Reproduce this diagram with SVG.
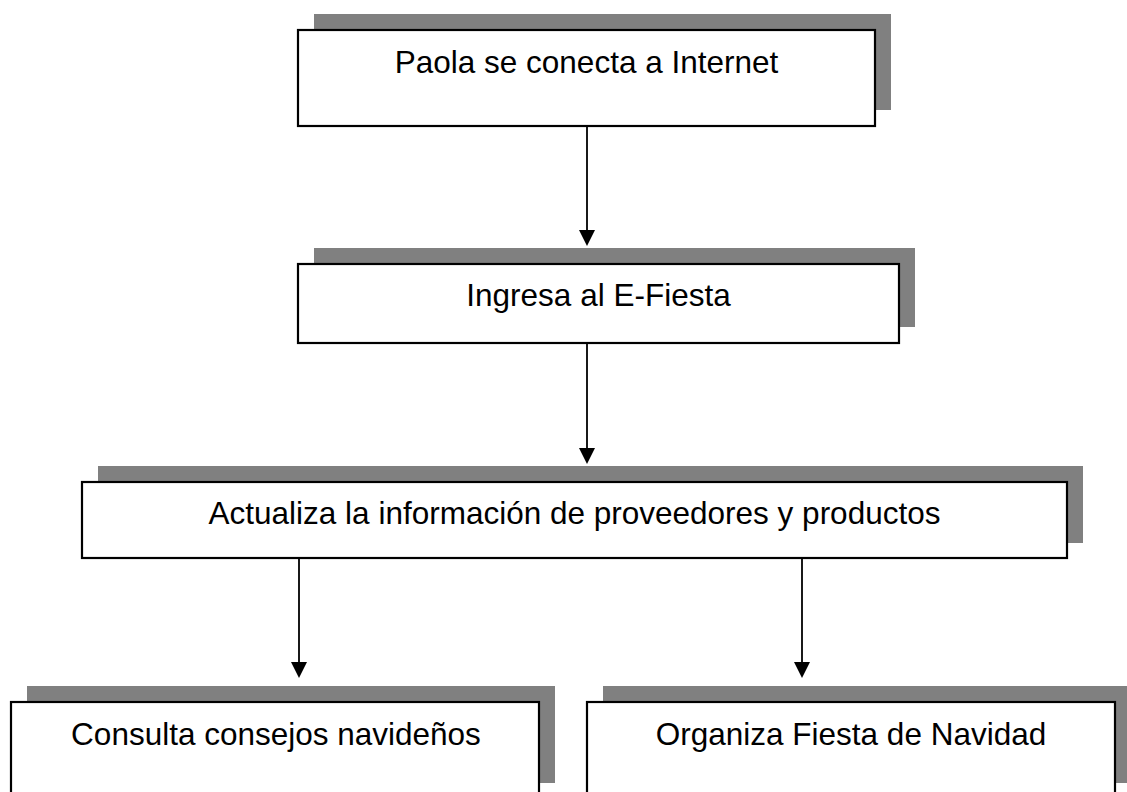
<svg xmlns="http://www.w3.org/2000/svg" width="1127" height="792" viewBox="0 0 1127 792">
<style>
.shadow{fill:#808080;stroke:none}
.box{fill:#ffffff;stroke:#000000;stroke-width:2.2}
.label{font-family:"Liberation Sans",Arial,sans-serif;font-size:31.5px;fill:#000000;text-anchor:middle}
.conn{stroke:#000000;stroke-width:1.8;fill:none}
.head{fill:#000000;stroke:none}
</style>
<rect width="1127" height="792" fill="#ffffff"/>
<g id="node1">
<rect class="shadow" x="314" y="14" width="577" height="96"/>
<rect class="box" x="298" y="30" width="577" height="96"/>
<text class="label" x="586.5" y="73">Paola se conecta a Internet</text>
</g>
<g id="node2">
<rect class="shadow" x="314" y="248" width="601" height="79"/>
<rect class="box" x="298" y="264" width="601" height="79"/>
<text class="label" x="598.5" y="306">Ingresa al E-Fiesta</text>
</g>
<g id="node3">
<rect class="shadow" x="98" y="466" width="985" height="77"/>
<rect class="box" x="82" y="482" width="985" height="76"/>
<text class="label" x="574.5" y="524">Actualiza la información de proveedores y productos</text>
</g>
<g id="node4">
<rect class="shadow" x="27" y="686" width="528" height="97"/>
<rect class="box" x="11" y="702" width="528" height="100"/>
<text class="label" x="276" y="745">Consulta consejos navideños</text>
</g>
<g id="node5">
<rect class="shadow" x="603" y="686" width="528" height="97"/>
<rect class="box" x="587" y="702" width="528" height="100"/>
<text class="label" x="851" y="745">Organiza Fiesta de Navidad</text>
</g>
<g id="connectors">
<line class="conn" x1="587" y1="126" x2="587" y2="232"/>
<path class="head" d="M579,230 L595,230 L587,246 Z"/>
<line class="conn" x1="587" y1="343" x2="587" y2="450"/>
<path class="head" d="M579,448 L595,448 L587,464 Z"/>
<line class="conn" x1="299" y1="558" x2="299" y2="664"/>
<path class="head" d="M291,662 L307,662 L299,678 Z"/>
<line class="conn" x1="802" y1="558" x2="802" y2="664"/>
<path class="head" d="M794,662 L810,662 L802,678 Z"/>
</g>
</svg>
